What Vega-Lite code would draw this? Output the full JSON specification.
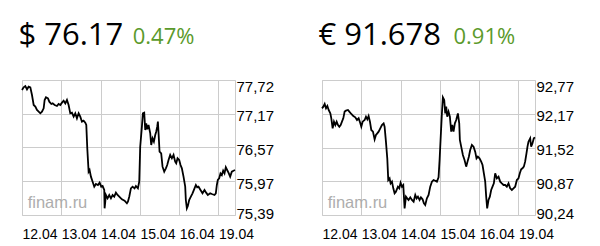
{
  "$schema": "https://vega.github.io/schema/vega-lite/v6.json",
  "background": "white",
  "padding": {"left": 17, "top": 19, "right": 0, "bottom": 0},
  "spacing": 41,
  "config": {
    "view": {"stroke": "#cccccc", "strokeWidth": 1},
    "title": {"font": "Open Sans", "fontSize": 31, "fontWeight": "normal", "color": "#000000", "anchor": "start", "subtitleFont": "Open Sans", "subtitleFontSize": 22, "subtitleFontWeight": "normal", "subtitleColor": "#5b9a2b", "subtitlePadding": -25, "offset": 27},
    "axis": {"grid": true, "gridColor": "#cccccc", "gridWidth": 1, "domain": false, "ticks": false, "tickSize": 0, "title": null, "labelColor": "#000000", "labelFont": "Liberation Sans", "labelOverlap": false, "labelFlush": false}
  },
  "datasets": {
    "usd": [
      {"t":0,"v":77.547},{"t":0.042,"v":77.593},{"t":0.085,"v":77.616},{"t":0.127,"v":77.559},{"t":0.169,"v":77.605},{"t":0.212,"v":77.593},{"t":0.254,"v":77.461},{"t":0.297,"v":77.289},{"t":0.339,"v":77.26},{"t":0.381,"v":77.202},{"t":0.424,"v":77.173},{"t":0.466,"v":77.145},{"t":0.508,"v":77.173},{"t":0.551,"v":77.231},{"t":0.576,"v":77.375},{"t":0.61,"v":77.421},{"t":0.661,"v":77.404},{"t":0.695,"v":77.346},{"t":0.746,"v":77.306},{"t":0.78,"v":77.317},{"t":0.831,"v":77.289},{"t":0.89,"v":77.271},{"t":0.932,"v":77.306},{"t":0.975,"v":77.289},{"t":1.017,"v":77.329},{"t":1.059,"v":77.363},{"t":1.102,"v":77.317},{"t":1.144,"v":77.375},{"t":1.186,"v":77.289},{"t":1.229,"v":77.145},{"t":1.271,"v":77.156},{"t":1.314,"v":77.087},{"t":1.356,"v":77.145},{"t":1.398,"v":77.058},{"t":1.441,"v":77.145},{"t":1.483,"v":77.087},{"t":1.525,"v":77.001},{"t":1.568,"v":77.018},{"t":1.61,"v":76.984},{"t":1.636,"v":76.943},{"t":1.661,"v":76.541},{"t":1.695,"v":76.138},{"t":1.72,"v":76.167},{"t":1.754,"v":76.052},{"t":1.797,"v":75.965},{"t":1.839,"v":75.879},{"t":1.881,"v":75.925},{"t":1.932,"v":75.908},{"t":1.975,"v":75.948},{"t":2.017,"v":75.879},{"t":2.051,"v":75.89},{"t":2.093,"v":75.822},{"t":2.102,"v":75.505},{"t":2.136,"v":75.735},{"t":2.178,"v":75.678},{"t":2.22,"v":75.735},{"t":2.263,"v":75.678},{"t":2.305,"v":75.735},{"t":2.347,"v":75.706},{"t":2.39,"v":75.776},{"t":2.432,"v":75.735},{"t":2.475,"v":75.706},{"t":2.542,"v":75.66},{"t":2.61,"v":75.637},{"t":2.669,"v":75.591},{"t":2.695,"v":75.62},{"t":2.729,"v":75.706},{"t":2.771,"v":75.85},{"t":2.814,"v":75.879},{"t":2.864,"v":75.85},{"t":2.898,"v":75.89},{"t":2.949,"v":75.85},{"t":2.983,"v":75.965},{"t":3.008,"v":76.569},{"t":3.051,"v":76.915},{"t":3.076,"v":77.145},{"t":3.11,"v":77.156},{"t":3.136,"v":76.857},{"t":3.161,"v":76.972},{"t":3.186,"v":76.869},{"t":3.22,"v":76.943},{"t":3.263,"v":76.8},{"t":3.288,"v":76.598},{"t":3.322,"v":76.713},{"t":3.356,"v":76.656},{"t":3.39,"v":76.771},{"t":3.415,"v":76.828},{"t":3.441,"v":76.915},{"t":3.458,"v":77.001},{"t":3.475,"v":76.8},{"t":3.5,"v":76.483},{"t":3.542,"v":76.454},{"t":3.576,"v":76.224},{"t":3.619,"v":76.138},{"t":3.661,"v":76.195},{"t":3.695,"v":76.253},{"t":3.729,"v":76.339},{"t":3.771,"v":76.426},{"t":3.814,"v":76.368},{"t":3.856,"v":76.426},{"t":3.898,"v":76.31},{"t":3.924,"v":76.282},{"t":3.958,"v":76.368},{"t":4.0,"v":76.339},{"t":4.034,"v":76.253},{"t":4.068,"v":76.195},{"t":4.11,"v":76.052},{"t":4.153,"v":75.879},{"t":4.169,"v":75.649},{"t":4.195,"v":75.505},{"t":4.22,"v":75.545},{"t":4.254,"v":75.649},{"t":4.297,"v":75.706},{"t":4.339,"v":75.764},{"t":4.39,"v":75.85},{"t":4.424,"v":75.908},{"t":4.458,"v":75.868},{"t":4.492,"v":75.879},{"t":4.542,"v":75.822},{"t":4.593,"v":75.764},{"t":4.644,"v":75.822},{"t":4.686,"v":75.776},{"t":4.729,"v":75.735},{"t":4.788,"v":75.764},{"t":4.831,"v":75.752},{"t":4.898,"v":75.735},{"t":4.932,"v":75.764},{"t":4.958,"v":75.908},{"t":4.983,"v":75.994},{"t":5.017,"v":76.023},{"t":5.051,"v":76.109},{"t":5.085,"v":76.08},{"t":5.119,"v":76.155},{"t":5.153,"v":76.109},{"t":5.186,"v":76.213},{"t":5.22,"v":76.167},{"t":5.254,"v":76.121},{"t":5.297,"v":76.052},{"t":5.339,"v":76.138},{"t":5.381,"v":76.155},{"t":5.42,"v":76.167}
    ],
    "eur": [
      {"t":0,"v":92.239},{"t":0.034,"v":92.27},{"t":0.068,"v":92.32},{"t":0.102,"v":92.239},{"t":0.136,"v":92.283},{"t":0.169,"v":92.208},{"t":0.212,"v":92.145},{"t":0.237,"v":92.052},{"t":0.271,"v":91.864},{"t":0.305,"v":91.989},{"t":0.339,"v":91.927},{"t":0.373,"v":91.989},{"t":0.407,"v":91.927},{"t":0.441,"v":91.895},{"t":0.475,"v":91.927},{"t":0.508,"v":91.989},{"t":0.542,"v":92.052},{"t":0.576,"v":92.177},{"t":0.61,"v":92.195},{"t":0.661,"v":92.208},{"t":0.695,"v":92.177},{"t":0.746,"v":92.133},{"t":0.797,"v":92.095},{"t":0.847,"v":92.07},{"t":0.89,"v":92.02},{"t":0.932,"v":92.052},{"t":0.975,"v":91.958},{"t":1.0,"v":91.895},{"t":1.034,"v":91.989},{"t":1.085,"v":92.02},{"t":1.119,"v":92.083},{"t":1.153,"v":92.033},{"t":1.186,"v":92.095},{"t":1.22,"v":91.989},{"t":1.254,"v":91.833},{"t":1.297,"v":91.802},{"t":1.339,"v":91.658},{"t":1.373,"v":91.739},{"t":1.407,"v":91.77},{"t":1.441,"v":91.802},{"t":1.483,"v":91.864},{"t":1.525,"v":91.927},{"t":1.568,"v":91.958},{"t":1.593,"v":91.895},{"t":1.627,"v":91.614},{"t":1.661,"v":91.302},{"t":1.686,"v":90.896},{"t":1.72,"v":90.927},{"t":1.746,"v":90.833},{"t":1.78,"v":90.865},{"t":1.814,"v":90.74},{"t":1.847,"v":90.646},{"t":1.881,"v":90.677},{"t":1.932,"v":90.771},{"t":1.966,"v":90.74},{"t":2.0,"v":90.846},{"t":2.034,"v":90.771},{"t":2.068,"v":90.802},{"t":2.102,"v":90.365},{"t":2.136,"v":90.584},{"t":2.169,"v":90.552},{"t":2.203,"v":90.521},{"t":2.246,"v":90.571},{"t":2.288,"v":90.521},{"t":2.331,"v":90.49},{"t":2.373,"v":90.615},{"t":2.407,"v":90.552},{"t":2.441,"v":90.584},{"t":2.483,"v":90.521},{"t":2.517,"v":90.571},{"t":2.559,"v":90.534},{"t":2.593,"v":90.459},{"t":2.627,"v":90.427},{"t":2.669,"v":90.552},{"t":2.712,"v":90.615},{"t":2.754,"v":90.771},{"t":2.797,"v":90.865},{"t":2.839,"v":90.896},{"t":2.881,"v":90.883},{"t":2.924,"v":90.865},{"t":2.966,"v":90.946},{"t":2.992,"v":91.271},{"t":3.017,"v":91.646},{"t":3.051,"v":92.145},{"t":3.076,"v":92.445},{"t":3.11,"v":92.395},{"t":3.136,"v":92.145},{"t":3.161,"v":92.27},{"t":3.186,"v":92.083},{"t":3.22,"v":92.177},{"t":3.254,"v":92.083},{"t":3.288,"v":91.802},{"t":3.314,"v":91.927},{"t":3.347,"v":91.802},{"t":3.381,"v":91.958},{"t":3.415,"v":92.02},{"t":3.458,"v":92.145},{"t":3.492,"v":91.958},{"t":3.508,"v":91.646},{"t":3.542,"v":91.521},{"t":3.585,"v":91.364},{"t":3.627,"v":91.271},{"t":3.669,"v":91.146},{"t":3.703,"v":91.24},{"t":3.737,"v":91.333},{"t":3.771,"v":91.458},{"t":3.814,"v":91.552},{"t":3.856,"v":91.521},{"t":3.898,"v":91.427},{"t":3.932,"v":91.302},{"t":3.966,"v":91.333},{"t":4.008,"v":91.302},{"t":4.051,"v":91.24},{"t":4.085,"v":91.177},{"t":4.119,"v":91.021},{"t":4.153,"v":90.865},{"t":4.178,"v":90.584},{"t":4.203,"v":90.365},{"t":4.237,"v":90.521},{"t":4.271,"v":90.584},{"t":4.305,"v":90.709},{"t":4.339,"v":90.771},{"t":4.373,"v":90.833},{"t":4.407,"v":91.021},{"t":4.449,"v":90.927},{"t":4.492,"v":90.958},{"t":4.534,"v":90.865},{"t":4.576,"v":90.833},{"t":4.619,"v":90.802},{"t":4.661,"v":90.802},{"t":4.703,"v":90.771},{"t":4.746,"v":90.833},{"t":4.788,"v":90.74},{"t":4.831,"v":90.709},{"t":4.873,"v":90.74},{"t":4.915,"v":90.771},{"t":4.958,"v":90.896},{"t":5.0,"v":90.927},{"t":5.034,"v":91.021},{"t":5.068,"v":91.096},{"t":5.102,"v":91.115},{"t":5.136,"v":91.146},{"t":5.169,"v":91.24},{"t":5.203,"v":91.396},{"t":5.229,"v":91.521},{"t":5.254,"v":91.614},{"t":5.297,"v":91.677},{"t":5.322,"v":91.521},{"t":5.356,"v":91.583},{"t":5.39,"v":91.677},{"t":5.42,"v":91.696}
    ]
  },
  "hconcat": [
    {
      "title": {"text": "$ 76.17", "subtitle": "\u200b\u00a0\u00a0\u00a0\u00a0\u00a0\u00a0\u00a0\u00a0\u00a0\u00a0\u00a0\u00a0\u00a0\u00a0\u00a0\u00a0\u00a0\u00a0\u00a0\u00a00.47%"},
      "width": 213,
      "height": 135,
      "data": {"name": "usd"},
      "layer": [
        {
          "mark": {"type": "line", "color": "#000000", "strokeWidth": 1.8},
          "encoding": {
            "x": {"field": "t", "type": "quantitative", "scale": {"domain": [0, 5.42], "nice": false, "zero": false},
              "axis": {"values": [0, 1, 2, 3, 4, 5], "tickCount": 10, "labelExpr": "datum.value < 0.5 ? '12.04' : datum.value < 1.5 ? '13.04' : datum.value < 2.5 ? '14.04' : datum.value < 3.5 ? '15.04' : datum.value < 4.5 ? '16.04' : '19.04'", "labelAlign": "left", "labelBaseline": "alphabetic", "labelPadding": 23, "labelFontSize": 14, "labelOverlap": false, "labelFlush": false}},
            "y": {"field": "v", "type": "quantitative", "scale": {"domain": [75.39, 77.72], "nice": false, "zero": false},
              "axis": {"orient": "right", "values": [75.39, 75.9725, 76.555, 77.1375, 77.72], "tickCount": 10, "labelExpr": "datum.value < 75.5 ? '75,39' : datum.value < 76.2 ? '75,97' : datum.value < 76.8 ? '76,57' : datum.value < 77.4 ? '77,17' : '77,72'", "labelBaseline": "alphabetic", "labelOffset": {"condition": [{"test": "datum.value > 77.5", "value": 11}, {"test": "datum.value < 75.5", "value": 3}], "value": 7}, "labelPadding": 1, "labelFontSize": 15, "labelOverlap": false, "labelFlush": false, "minExtent": 40, "maxExtent": 40}}
          }
        },
        {
          "data": {"values": [{"label": "finam.ru"}]},
          "mark": {"type": "text", "align": "left", "baseline": "alphabetic", "font": "Liberation Sans", "fontSize": 16.5, "color": "#adadad"},
          "encoding": {"x": {"datum": 0.145, "type": "quantitative"}, "y": {"datum": 75.51, "type": "quantitative"}, "text": {"field": "label"}}
        }
      ]
    },
    {
      "title": {"text": "€ 91.678", "subtitle": "\u200b\u00a0\u00a0\u00a0\u00a0\u00a0\u00a0\u00a0\u00a0\u00a0\u00a0\u00a0\u00a0\u00a0\u00a0\u00a0\u00a0\u00a0\u00a0\u00a0\u00a0\u00a0\u00a0\u00a0\u20060.91%"},
      "width": 213,
      "height": 135,
      "data": {"name": "eur"},
      "layer": [
        {
          "mark": {"type": "line", "color": "#000000", "strokeWidth": 1.8},
          "encoding": {
            "x": {"field": "t", "type": "quantitative", "scale": {"domain": [0, 5.42], "nice": false, "zero": false},
              "axis": {"values": [0, 1, 2, 3, 4, 5], "tickCount": 10, "labelExpr": "datum.value < 0.5 ? '12.04' : datum.value < 1.5 ? '13.04' : datum.value < 2.5 ? '14.04' : datum.value < 3.5 ? '15.04' : datum.value < 4.5 ? '16.04' : '19.04'", "labelAlign": "left", "labelBaseline": "alphabetic", "labelPadding": 23, "labelFontSize": 14, "labelOverlap": false, "labelFlush": false}},
            "y": {"field": "v", "type": "quantitative", "scale": {"domain": [90.24, 92.77], "nice": false, "zero": false},
              "axis": {"orient": "right", "values": [90.24, 90.8725, 91.505, 92.1375, 92.77], "tickCount": 10, "labelExpr": "datum.value < 90.5 ? '90,24' : datum.value < 91.2 ? '90,87' : datum.value < 91.8 ? '91,52' : datum.value < 92.4 ? '92,17' : '92,77'", "labelBaseline": "alphabetic", "labelOffset": {"condition": [{"test": "datum.value > 92.5", "value": 11}, {"test": "datum.value < 90.5", "value": 3}], "value": 7}, "labelPadding": 1, "labelFontSize": 15, "labelOverlap": false, "labelFlush": false, "minExtent": 40, "maxExtent": 40}}
          }
        },
        {
          "data": {"values": [{"label": "finam.ru"}]},
          "mark": {"type": "text", "align": "left", "baseline": "alphabetic", "font": "Liberation Sans", "fontSize": 16.5, "color": "#adadad"},
          "encoding": {"x": {"datum": 0.145, "type": "quantitative"}, "y": {"datum": 90.37, "type": "quantitative"}, "text": {"field": "label"}}
        }
      ]
    }
  ]
}
